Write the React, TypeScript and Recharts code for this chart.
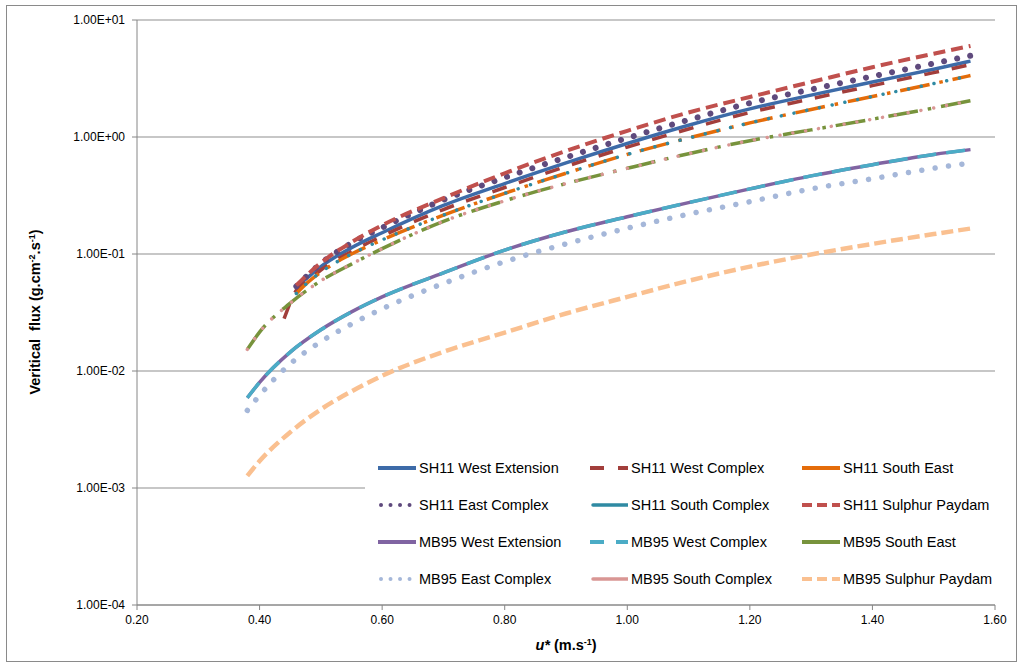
import React from 'react';
import { LineChart, Line, XAxis, YAxis, CartesianGrid, Legend } from 'recharts';

// u* values (m/s) each group of series was sampled at
const shX = [0.46, 0.48, 0.5, 0.55, 0.6, 0.7, 0.8, 0.9, 1.0, 1.1, 1.2, 1.3, 1.4, 1.5, 1.56];
const shWestComplexX = [0.44, 0.46, 0.48, 0.5, 0.55, 0.6, 0.7, 0.8, 0.9, 1.0, 1.1, 1.2, 1.3, 1.4, 1.5, 1.56];
const mbX = [0.38, 0.4, 0.45, 0.5, 0.55, 0.6, 0.7, 0.8, 0.9, 1.0, 1.1, 1.2, 1.3, 1.4, 1.5, 1.56];

// vertical flux (g.cm-2.s-1)
const sh11WestExtension = [0.052, 0.064, 0.078, 0.113, 0.152, 0.26, 0.4, 0.6, 0.88, 1.26, 1.74, 2.28, 2.95, 3.8, 4.45];
const sh11WestComplex = [0.028, 0.049, 0.06, 0.073, 0.105, 0.142, 0.24, 0.37, 0.56, 0.82, 1.17, 1.62, 2.12, 2.75, 3.55, 4.15];
const sh11SouthEast = [0.046, 0.058, 0.07, 0.1, 0.132, 0.215, 0.33, 0.49, 0.71, 0.98, 1.32, 1.72, 2.22, 2.86, 3.35];
const sh11EastComplex = [0.053, 0.067, 0.083, 0.124, 0.168, 0.29, 0.45, 0.67, 0.98, 1.4, 1.95, 2.55, 3.3, 4.25, 4.95];
const sh11SouthComplex = [0.046, 0.058, 0.07, 0.1, 0.132, 0.215, 0.33, 0.49, 0.71, 0.98, 1.32, 1.72, 2.22, 2.86, 3.35];
const sh11SulphurPaydam = [0.054, 0.068, 0.084, 0.126, 0.176, 0.3, 0.49, 0.76, 1.13, 1.62, 2.2, 2.95, 3.95, 5.15, 6.0];
const mb95WestExtension = [0.0059, 0.008, 0.0145, 0.0225, 0.032, 0.043, 0.069, 0.108, 0.155, 0.208, 0.275, 0.36, 0.465, 0.58, 0.71, 0.78];
const mb95WestComplex = [0.0059, 0.008, 0.0145, 0.0225, 0.032, 0.043, 0.069, 0.108, 0.155, 0.208, 0.275, 0.36, 0.465, 0.58, 0.71, 0.78];
const mb95SouthEast = [0.0153, 0.0215, 0.038, 0.059, 0.082, 0.111, 0.19, 0.285, 0.4, 0.54, 0.72, 0.93, 1.15, 1.42, 1.77, 2.04];
const mb95EastComplex = [0.0046, 0.0062, 0.0115, 0.0178, 0.0252, 0.034, 0.056, 0.086, 0.122, 0.166, 0.219, 0.28, 0.36, 0.44, 0.54, 0.6];
const mb95SouthComplex = [0.0153, 0.0215, 0.038, 0.059, 0.082, 0.111, 0.19, 0.285, 0.4, 0.54, 0.72, 0.93, 1.15, 1.42, 1.77, 2.04];
const mb95SulphurPaydam = [0.00127, 0.0017, 0.003, 0.0047, 0.0067, 0.0091, 0.0146, 0.0213, 0.031, 0.043, 0.059, 0.078, 0.099, 0.122, 0.148, 0.165];

const xTicks = [0.2, 0.4, 0.6, 0.8, 1.0, 1.2, 1.4, 1.6];
const yTicks = [0.0001, 0.001, 0.01, 0.1, 1, 10];

const toPoints = (xs: number[], ys: number[]) => xs.map((u, i) => ({ u, flux: ys[i] }));

type Series = {
  name: string;
  data: { u: number; flux: number }[];
  color: string;
  width: number;
  dash?: string;
  cap?: 'round' | 'butt';
  legendSolid?: boolean;
  legendDash?: string;
};

const series: Series[] = [
  { name: 'SH11 West Extension', data: toPoints(shX, sh11WestExtension), color: '#3D6BA8', width: 3.5 },
  { name: 'SH11 West Complex', data: toPoints(shWestComplexX, sh11WestComplex), color: '#A23E3B', width: 3.5, dash: '15 13', legendDash: '14 14' },
  { name: 'SH11 South East', data: toPoints(shX, sh11SouthEast), color: '#E46C0A', width: 3.5, dash: '30 10 3.5 10', legendSolid: true },
  { name: 'SH11 East Complex', data: toPoints(shX, sh11EastComplex), color: '#5F4A7D', width: 6, dash: '0.01 13.3', cap: 'round', legendDash: '0.01 9.5' },
  { name: 'SH11 South Complex', data: toPoints(shX, sh11SouthComplex), color: '#2F8AA3', width: 3.5, dash: '0.01 13', cap: 'round', legendSolid: true },
  { name: 'SH11 Sulphur Paydam', data: toPoints(shX, sh11SulphurPaydam), color: '#C0504D', width: 4, dash: '12 6', legendDash: '10 5' },
  { name: 'MB95 West Extension', data: toPoints(mbX, mb95WestExtension), color: '#8064A2', width: 3.5 },
  { name: 'MB95 West Complex', data: toPoints(mbX, mb95WestComplex), color: '#4BACC6', width: 3.5, dash: '19 10', legendDash: '14 12' },
  { name: 'MB95 South East', data: toPoints(mbX, mb95SouthEast), color: '#77933C', width: 3.5, dash: '30 10 3.5 10', legendSolid: true },
  { name: 'MB95 East Complex', data: toPoints(mbX, mb95EastComplex), color: '#A5B7D9', width: 5.5, dash: '0.01 13.5', cap: 'round', legendDash: '0.01 9.5' },
  { name: 'MB95 South Complex', data: toPoints(mbX, mb95SouthComplex), color: '#D99694', width: 3.5, dash: '0.01 13', cap: 'round', legendSolid: true },
  { name: 'MB95 Sulphur Paydam', data: toPoints(mbX, mb95SulphurPaydam), color: '#FAC090', width: 4.5, dash: '12 5', legendDash: '10 5' },
];

const fmtExp = (v: number) => {
  const e = Math.round(Math.log10(v));
  const m = v / Math.pow(10, e);
  return `${m.toFixed(2)}E${e < 0 ? '-' : '+'}${String(Math.abs(e)).padStart(2, '0')}`;
};

const LegendBox = () => (
  <div
    style={{
      display: 'grid',
      gridTemplateColumns: 'repeat(3, 212px)',
      gridAutoRows: '37px',
      paddingLeft: 13,
      background: '#fff',
      height: '100%',
      boxSizing: 'border-box',
    }}
  >
    {series.map((s) => (
      <div key={s.name} style={{ display: 'flex', alignItems: 'center' }}>
        <svg width={38} height={10} style={{ flex: 'none' }}>
          <line
            x1={s.cap === 'round' ? 3 : 0}
            y1={5}
            x2={38}
            y2={5}
            stroke={s.color}
            strokeWidth={s.cap === 'round' ? Math.min(s.width, 4) : 4}
            strokeDasharray={s.legendSolid ? undefined : s.legendDash}
            strokeLinecap={s.cap === 'round' ? 'round' : 'butt'}
          />
        </svg>
        <span style={{ marginLeft: 3, fontSize: 14.5, color: '#000', whiteSpace: 'nowrap' }}>{s.name}</span>
      </div>
    ))}
  </div>
);

const YTitle = () => (
  <text
    x={40}
    y={312}
    transform="rotate(-90 40 312)"
    textAnchor="middle"
    fontSize={14.5}
    fontWeight="bold"
    fill="#000"
    style={{ whiteSpace: 'pre' }}
  >
    <tspan>Veritical  flux (g.cm</tspan>
    <tspan fontSize={9} dy={-5}>-2</tspan>
    <tspan dy={5}>.s</tspan>
    <tspan fontSize={9} dy={-5}>-1</tspan>
    <tspan dy={5}>)</tspan>
  </text>
);

const XTitle = () => (
  <text x={566} y={650} textAnchor="middle" fontSize={14.5} fontWeight="bold" fill="#000">
    <tspan fontStyle="italic">u*</tspan>
    <tspan> (m.s</tspan>
    <tspan fontSize={9} dy={-5}>-1</tspan>
    <tspan dy={5}>)</tspan>
  </text>
);

export default function App() {
  return (
    <div style={{ position: 'relative', width: 1021, height: 666, fontFamily: '"Liberation Sans", Arial, sans-serif', background: '#fff' }}>
      <style>{'body{margin:0;}'}</style>
      <div style={{ position: 'absolute', left: 6, top: 5, width: 1009, height: 655, border: '1px solid #8a8a8a', pointerEvents: 'none' }} />
      <LineChart width={1021} height={666} margin={{ top: 20, right: 26, bottom: 21, left: 0 }}>
        <CartesianGrid vertical={false} stroke="#8f8f8f" strokeWidth={1} />
        <XAxis
          type="number"
          dataKey="u"
          domain={[0.2, 1.6]}
          ticks={xTicks}
          tickFormatter={(v: number) => v.toFixed(2)}
          allowDataOverflow
          height={40}
          tickSize={5}
          tickMargin={5}
          stroke="#868686"
          tick={{ fill: '#000', fontSize: 12 }}
          label={<XTitle />}
        />
        <YAxis
          scale="log"
          domain={[0.0001, 10]}
          ticks={yTicks}
          allowDataOverflow
          width={137}
          tickSize={5}
          tickMargin={7}
          tickFormatter={fmtExp}
          stroke="#868686"
          tick={{ fill: '#000', fontSize: 12 }}
          label={<YTitle />}
        />
        {series.map((s) => (
          <Line
            key={s.name}
            data={s.data}
            dataKey="flux"
            name={s.name}
            type="monotone"
            stroke={s.color}
            strokeWidth={s.width}
            strokeDasharray={s.dash}
            strokeLinecap={s.cap ?? 'butt'}
            dot={false}
            activeDot={false}
            isAnimationActive={false}
          />
        ))}
        <Legend
          layout="horizontal"
          verticalAlign="middle"
          align="center"
          content={() => <LegendBox />}
          wrapperStyle={{ left: 365, top: 449, width: 632, height: 148 }}
        />
      </LineChart>
    </div>
  );
}
